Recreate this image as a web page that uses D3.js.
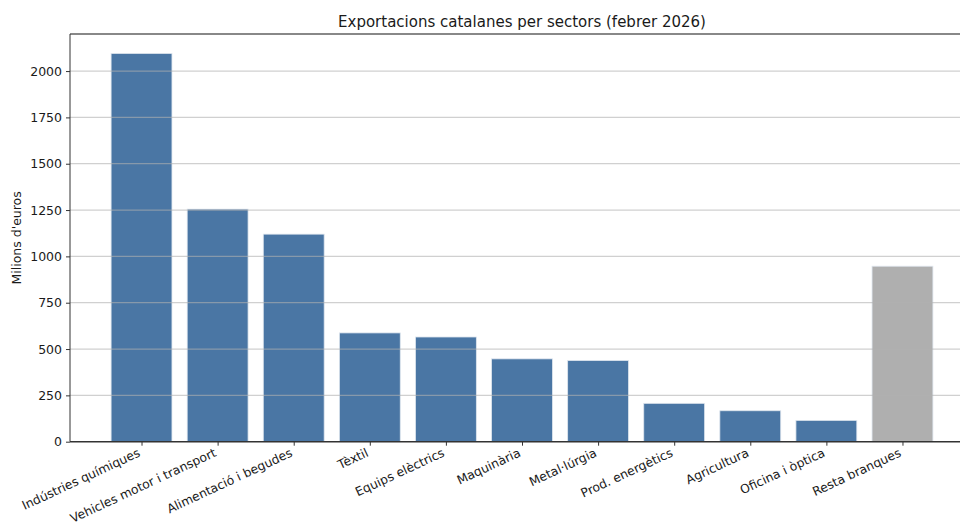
<!DOCTYPE html>
<html><head><meta charset="utf-8">
<script src="https://cdn.jsdelivr.net/npm/d3@7/dist/d3.min.js"></script>
<style>html,body{margin:0;padding:0;background:#fff;overflow:hidden}svg{display:block;font-family:"DejaVu Sans",sans-serif}</style>
</head><body><svg id="c" width="960" height="526"></svg>
<script>
const categories = ["Indústries químiques","Vehicles motor i transport","Alimentació i begudes","Tèxtil","Equips elèctrics","Maquinària","Metal·lúrgia","Prod. energètics","Agricultura","Oficina i òptica","Resta branques"];
const values = [2095,1255,1120,587,565,447,438,207,167,115,947];
const highlight = ["Resta branques"];
const yTicks = [0,250,500,750,1000,1250,1500,1750,2000];
const title = "Exportacions catalanes per sectors (febrer 2026)";
const yLabel = "Milions d'euros";

const svg = d3.select("#c");
const L = 70, R = 974, T = 34, B = 441.7;
const n = categories.length;
const x = d3.scaleLinear().domain([-0.94, n - 1 + 0.94]).range([L, R]);
const y = d3.scaleLinear().domain([0, 2200]).range([B, T]);
const bw = x(0.4) - x(-0.4);

// bars
svg.append("g").selectAll("rect").data(categories).join("rect")
  .attr("x", (d,i) => x(i) - bw/2)
  .attr("y", (d,i) => y(values[i]))
  .attr("width", bw)
  .attr("height", (d,i) => y(0) - y(values[i]))
  .attr("fill", d => highlight.includes(d) ? "#afafaf" : "#4a76a4")
  .attr("stroke", "#dfe6ee").attr("stroke-width", 0.8);

// grid on top
svg.append("g").selectAll("line").data(yTicks.filter(t => t > 0)).join("line")
  .attr("x1", L).attr("x2", R).attr("y1", d => y(d)).attr("y2", d => y(d))
  .attr("stroke", "#b0b0b0").attr("stroke-opacity", 0.6).attr("stroke-width", 1.2);

// y axis
const yAxis = d3.axisLeft(y).tickValues(yTicks).tickSize(4).tickPadding(4).tickFormat(d3.format("d"));
const gy = svg.append("g").attr("transform", `translate(${L},0)`).call(yAxis);
gy.select(".domain").remove();
gy.selectAll(".tick line").attr("stroke", "#333");
gy.selectAll("text").attr("font-size", 12.5).attr("fill", "#1a1a1a").attr("font-family", "DejaVu Sans");

// x axis
const xAxis = d3.axisBottom(x).tickValues(d3.range(n)).tickSize(4).tickFormat(i => categories[i]);
const gx = svg.append("g").attr("transform", `translate(0,${B})`).call(xAxis);
gx.select(".domain").remove();
gx.selectAll(".tick line").attr("stroke", "#333");
gx.selectAll("text").attr("font-size", 12.3).attr("fill", "#1a1a1a").attr("font-family", "DejaVu Sans")
  .attr("text-anchor", "end").attr("dy", null).attr("y", 0)
  .attr("transform", "translate(-1,14) rotate(-25)");

// spines
svg.append("line").attr("x1", L).attr("x2", R).attr("y1", T).attr("y2", T).attr("stroke", "#888").attr("stroke-width", 1.8);
svg.append("line").attr("x1", L).attr("x2", L).attr("y1", T).attr("y2", B).attr("stroke", "#333").attr("stroke-width", 1);
svg.append("line").attr("x1", L).attr("x2", R).attr("y1", B).attr("y2", B).attr("stroke", "#333").attr("stroke-width", 1.5);
svg.append("line").attr("x1", R).attr("x2", R).attr("y1", T).attr("y2", B).attr("stroke", "#333").attr("stroke-width", 1);

// title
svg.append("text").attr("x", (L + R) / 2).attr("y", 27).attr("text-anchor", "middle")
  .attr("font-size", 15).attr("fill", "#1a1a1a").text(title);
// y label
svg.append("text").attr("transform", `translate(21,${(T + B) / 2}) rotate(-90)`).attr("text-anchor", "middle")
  .attr("font-size", 12.5).attr("fill", "#1a1a1a").text(yLabel);
</script></body></html>
